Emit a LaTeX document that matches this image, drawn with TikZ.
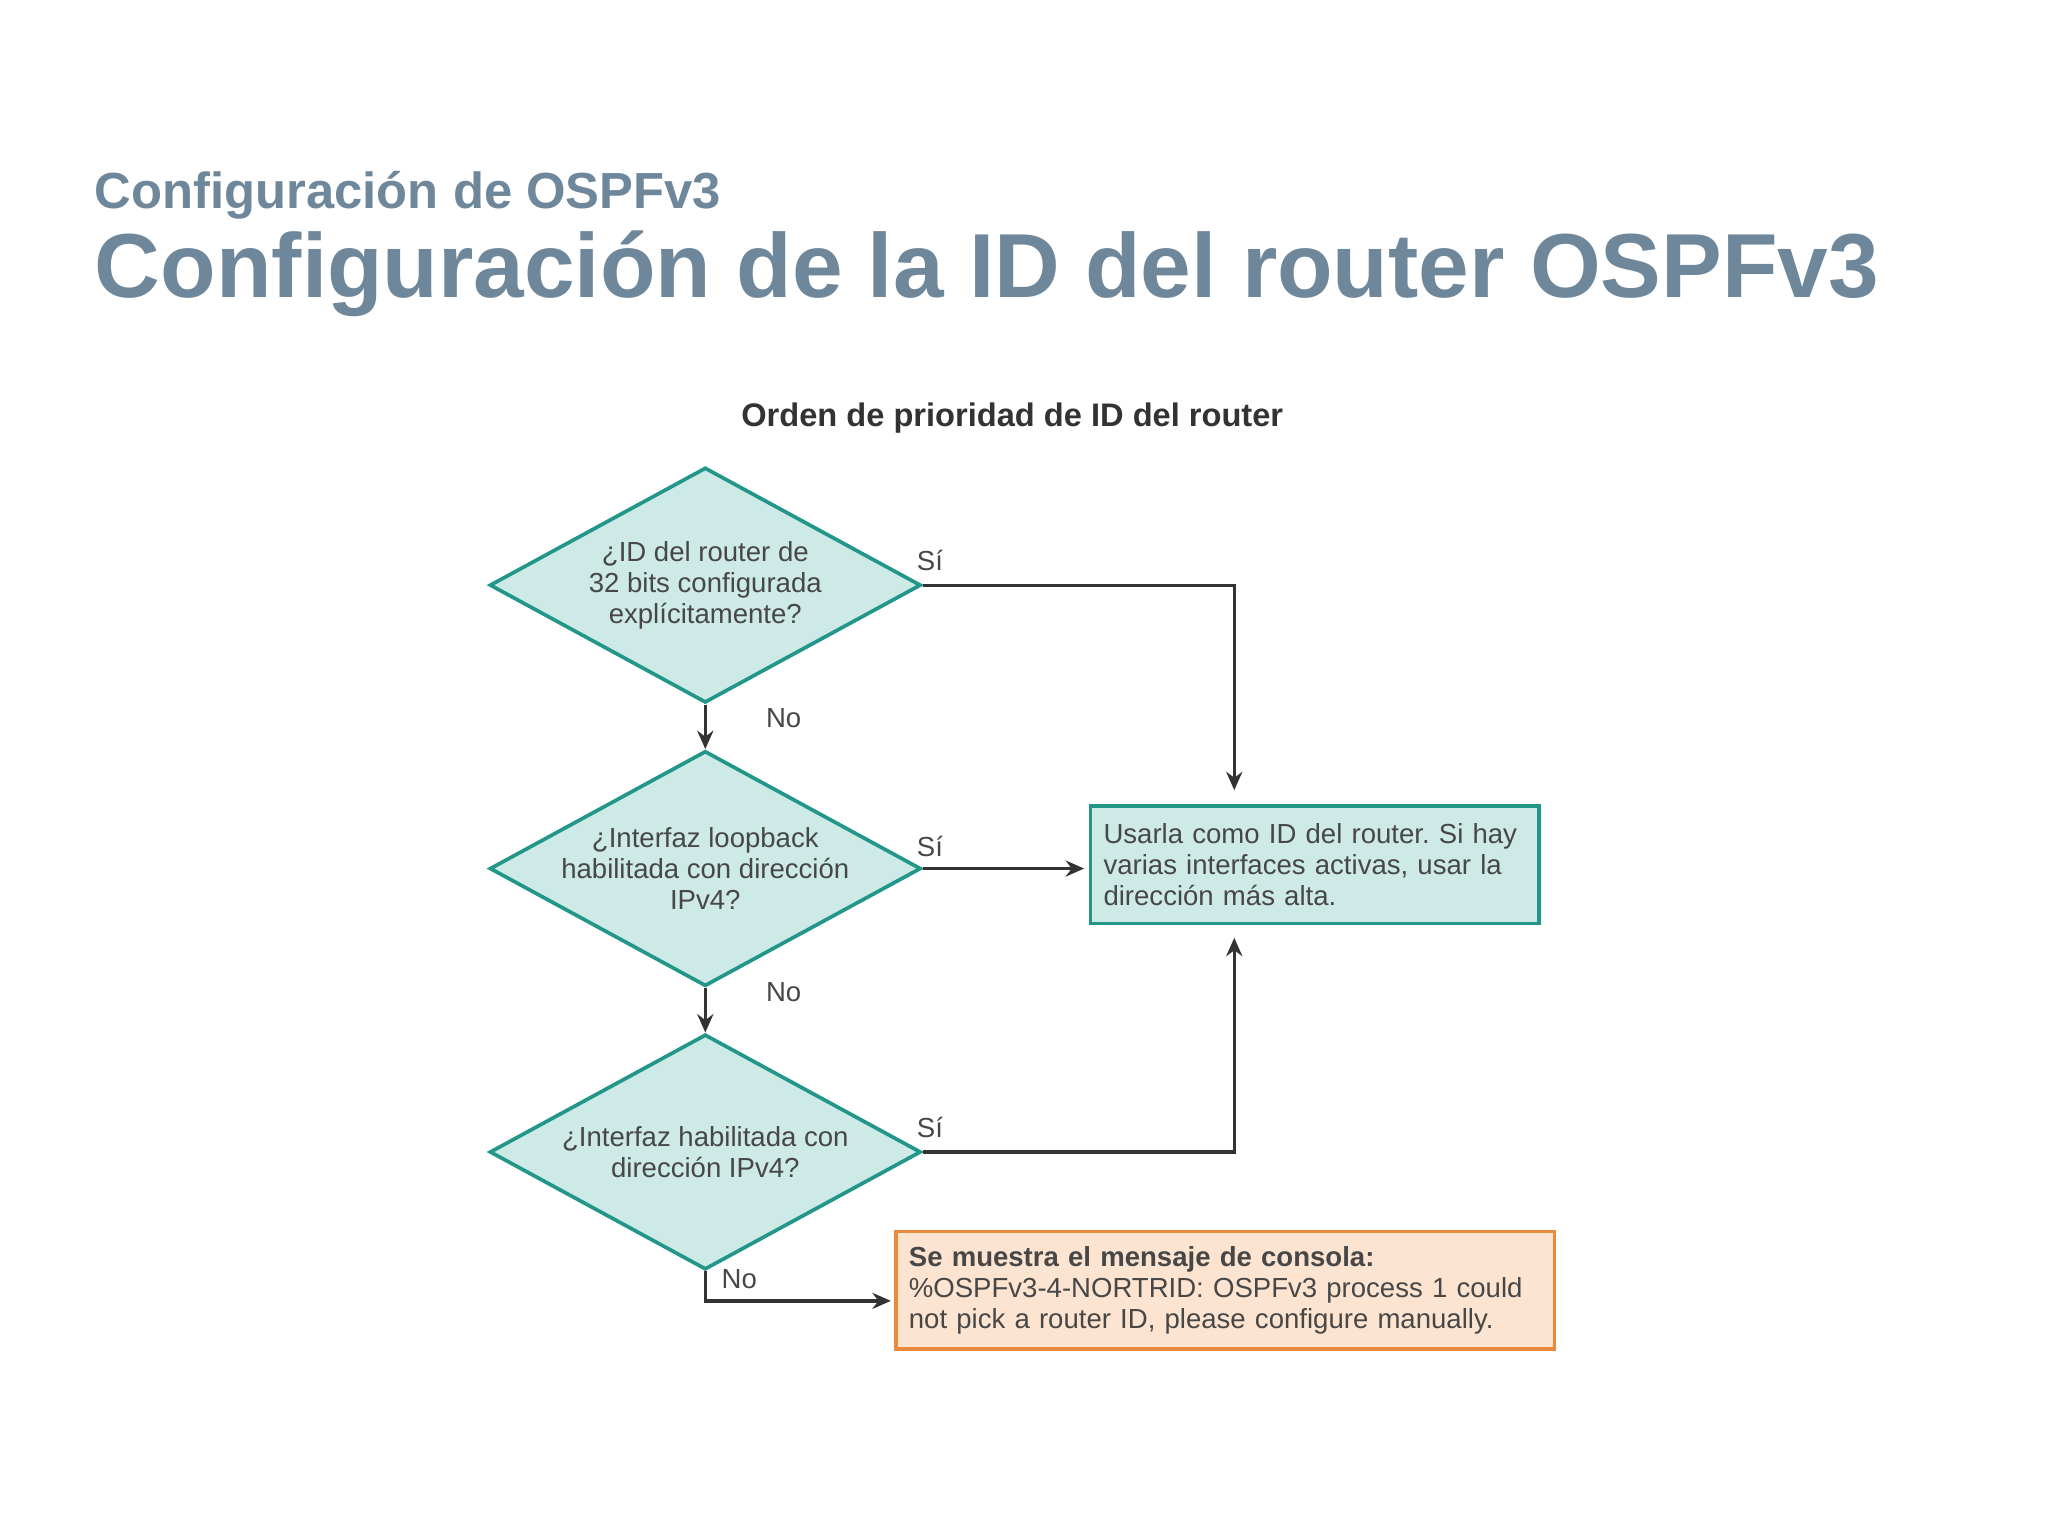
\documentclass[tikz,border=0pt]{standalone}
\usepackage{fontspec}
\setmainfont{Liberation Sans}
\frenchspacing
\usetikzlibrary{shapes.geometric,arrows.meta}
\definecolor{titlec}{HTML}{6E879B}
\definecolor{tealf}{HTML}{CDEAE7}
\definecolor{teald}{HTML}{23968A}
\definecolor{peachf}{HTML}{FCE4D0}
\definecolor{orangec}{HTML}{EA8A3C}
\definecolor{linec}{HTML}{333333}
\begin{document}
\begin{tikzpicture}[x=0.01cm,y=-0.01cm,
  dec/.style={diamond,draw=teald,fill=tealf,line width=0.8pt,minimum width=3.3cm,minimum height=1.8cm,aspect=1.83,inner sep=-6pt,align=center,font=\fontsize{6}{6.8}\selectfont,text=linec!90},
  res/.style={rectangle,draw=teald,fill=tealf,line width=0.8pt,minimum width=3.43cm,minimum height=0.9cm,align=left,inner sep=0.1cm,text width=3.23cm,font=\fontsize{6}{6.8}\selectfont,text=linec!90},
  conn/.style={draw=linec,line width=0.7pt,-{Stealth[length=4pt,width=3.5pt]}},
  lbl/.style={font=\fontsize{6}{6.8}\selectfont,text=linec!90,inner sep=0pt}]
\useasboundingbox (0,0) rectangle (1568,1176);
\fill[white] (0,0) rectangle (1568,1176);
\node[anchor=base west,text=titlec,font=\bfseries\fontsize{11.05}{12}\selectfont,inner sep=0] (sub) at (72,160) {Configuración de OSPFv3};
\node[anchor=base west,text=titlec,font=\bfseries\fontsize{19.8}{24}\selectfont,inner sep=0] (tit) at (72,228) {Configuración de la ID del router OSPFv3};
\node[font=\bfseries\fontsize{7.1}{8}\selectfont,text=linec] (hd) at (775,320) {Orden de prioridad de ID del router};
\node[dec] (d1) at (540,448) {¿ID del router de\\32 bits configurada\\explícitamente?};
\node[dec] (d2) at (540,665) {¿Interfaz loopback\\habilitada con dirección\\IPv4?};
\node[dec] (d3) at (540,882) {¿Interfaz habilitada con\\dirección IPv4?};
\node[res] (b1) at (1006.5,662) {Usarla como ID del router. Si hay\\varias interfaces activas, usar la\\dirección más alta.};
\node[rectangle,draw=orangec,fill=peachf,line width=0.8pt,minimum width=5.04cm,minimum height=0.9cm,text width=4.84cm,inner sep=0.1cm,align=left,font=\fontsize{6}{6.8}\selectfont,text=linec!90] (b2) at (938,988) {\textbf{Se muestra el mensaje de consola:}\\\%OSPFv3-4-NORTRID: OSPFv3 process 1 could\\not pick a router ID, please configure manually.};
\coordinate (c1) at (945,448);
\coordinate (c1e) at (945,605);
\coordinate (c3) at (945,882);
\coordinate (c3e) at (945,718);
\coordinate (c4) at (540,996);
\coordinate (e2) at (830,665);
\coordinate (e4) at (682,996);
\draw[conn] (d1.south) -- (d2.north);
\draw[conn] (d2.south) -- (d3.north);
\draw[conn] (d1.east) -- (c1) -- (c1e);
\draw[conn] (d2.east) -- (e2);
\draw[conn] (d3.east) -- (c3) -- (c3e);
\draw[conn] (d3.south) -- (c4) -- (e4);
\node[lbl] (l1) at (600,550) {No};
\node[lbl] (l2) at (600,760) {No};
\node[lbl] (l3) at (566,979) {No};
\node[lbl] (s1) at (712,429) {Sí};
\node[lbl] (s2) at (712,648) {Sí};
\node[lbl] (s3) at (712,863) {Sí};
\end{tikzpicture}
\end{document}
